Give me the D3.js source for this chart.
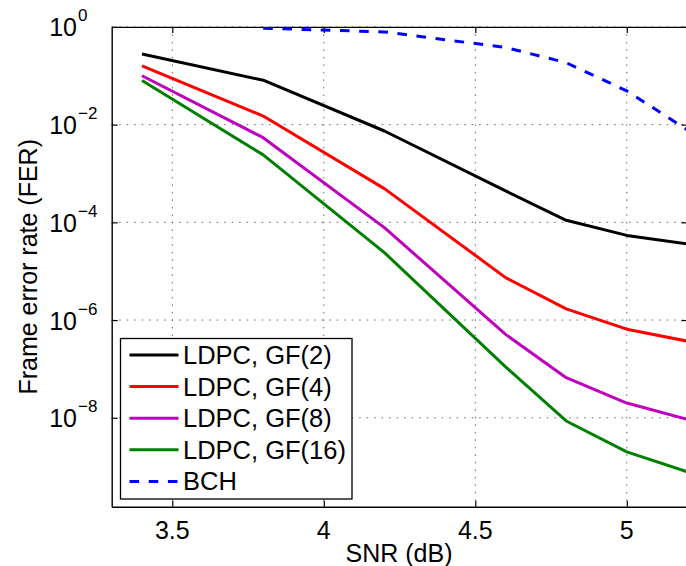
<!DOCTYPE html>
<html>
<head>
<meta charset="utf-8">
<script src="https://cdn.jsdelivr.net/npm/d3@7"></script>
<style>
  body { margin: 0; background: #fff; }
  text { font-family: "Liberation Sans", Arial, Helvetica, sans-serif; fill: #000; }
</style>
</head>
<body>
<div id="chart"></div>
<script>
// SNR points (dB) and frame error rates
var snr = [3.4, 3.8, 4.2, 4.6, 4.8, 5.0, 5.2];
var ferGF2 = [0.28, 0.081, 7.4e-3, 4.4e-4, 1.1e-4, 5.4e-5, 3.6e-5];
var ferGF4 = [0.16, 0.015, 4.9e-4, 7.4e-6, 1.7e-6, 6.5e-7, 3.7e-7];
var ferGF8 = [0.10, 5.4e-3, 7.8e-5, 5.1e-7, 6.6e-8, 2.0e-8, 9.3e-9];
var ferGF16 = [0.08, 2.4e-3, 2.4e-5, 1.1e-7, 8.6e-9, 2.0e-9, 7.8e-10];
var snrBCH = [3.8, 4.2, 4.6, 4.8, 5.0, 5.2];
var ferBCH = [0.94, 0.79, 0.38, 0.185, 0.049, 0.0078];

var seriesNames = ['LDPC, GF(2)', 'LDPC, GF(4)', 'LDPC, GF(8)', 'LDPC, GF(16)', 'BCH'];
var xTicks = [3.5, 4, 4.5, 5];
var yTickExp = [0, -2, -4, -6, -8];

var width = 686, height = 566;
var margin = { top: 26.9, left: 111.7, bottom: 506.7, right: 687.4 };

var svg = d3.select('#chart').append('svg')
  .attr('width', width)
  .attr('height', height);

var x = d3.scaleLinear().domain([3.3, 5.2]).range([margin.left, margin.right]);
var y = d3.scaleLog().domain([Math.pow(10, -9.82), 1]).range([margin.bottom, margin.top]);

var series = [
  { name: seriesNames[0], xs: snr, ys: ferGF2, color: '#000000', dash: null },
  { name: seriesNames[1], xs: snr, ys: ferGF4, color: '#ff0000', dash: null },
  { name: seriesNames[2], xs: snr, ys: ferGF8, color: '#bf00bf', dash: null },
  { name: seriesNames[3], xs: snr, ys: ferGF16, color: '#008000', dash: null },
  { name: seriesNames[4], xs: snrBCH, ys: ferBCH, color: '#0000ff', dash: '9.6,9.6' }
];

svg.append('clipPath').attr('id', 'plot-clip')
  .append('rect')
  .attr('x', margin.left).attr('y', margin.top)
  .attr('width', margin.right - margin.left)
  .attr('height', margin.bottom - margin.top);

// dotted grid
var grid = svg.append('g').attr('class', 'grid');
grid.selectAll('.vgrid')
  .data(xTicks)
  .enter().append('line')
  .attr('x1', d => x(d)).attr('x2', d => x(d))
  .attr('y1', margin.top).attr('y2', margin.bottom);
grid.selectAll('.hgrid')
  .data(yTickExp)
  .enter().append('line')
  .attr('x1', margin.left).attr('x2', margin.right)
  .attr('y1', d => y(Math.pow(10, d))).attr('y2', d => y(Math.pow(10, d)));
grid.selectAll('line')
  .attr('stroke', '#666')
  .attr('stroke-width', 1)
  .attr('stroke-dasharray', '1.5,6');

// axes with inward ticks
var yTickVals = yTickExp.map(e => Math.pow(10, e));

svg.append('g')
  .attr('transform', 'translate(0,' + margin.bottom + ')')
  .call(d3.axisBottom(x).tickValues(xTicks).tickSize(-6).tickSizeOuter(0).tickFormat(''));
svg.append('g')
  .attr('transform', 'translate(0,' + margin.top + ')')
  .call(d3.axisTop(x).tickValues(xTicks).tickSize(-6).tickSizeOuter(0).tickFormat(''));
svg.append('g')
  .attr('transform', 'translate(' + margin.left + ',0)')
  .call(d3.axisLeft(y).tickValues(yTickVals).tickSize(-6).tickSizeOuter(0).tickFormat(''));
svg.append('g')
  .attr('transform', 'translate(' + margin.right + ',0)')
  .call(d3.axisRight(y).tickValues(yTickVals).tickSize(-6).tickSizeOuter(0).tickFormat(''));

svg.selectAll('.domain').attr('stroke', '#000').attr('stroke-width', 1.4);
svg.selectAll('.tick line').attr('stroke', '#000').attr('stroke-width', 1.2);

// series lines
var line = d3.line()
  .x(d => x(d[0]))
  .y(d => y(d[1]));

svg.append('g')
  .attr('clip-path', 'url(#plot-clip)')
  .selectAll('path')
  .data(series)
  .enter().append('path')
  .attr('d', d => line(d3.zip(d.xs, d.ys)))
  .attr('fill', 'none')
  .attr('stroke', d => d.color)
  .attr('stroke-width', 3)
  .attr('stroke-linejoin', 'round')
  .attr('stroke-dasharray', d => d.dash);

// tick labels
svg.selectAll('.xlab')
  .data(xTicks)
  .enter().append('text')
  .attr('x', d => x(d))
  .attr('y', 539)
  .attr('text-anchor', 'middle')
  .style('font-size', '25px')
  .text(d => d);

var ylab = svg.selectAll('.ylab')
  .data(yTickExp)
  .enter().append('g');
ylab.append('text')
  .attr('x', 77)
  .attr('y', d => y(Math.pow(10, d)) + 9.5)
  .attr('text-anchor', 'end')
  .style('font-size', '25px')
  .text('10');
ylab.append('text')
  .attr('x', 78)
  .attr('y', d => y(Math.pow(10, d)) - 5.5)
  .style('font-size', '17px')
  .text(d => d < 0 ? '\u2212' + (-d) : d);

// axis titles
svg.append('text')
  .attr('x', 399)
  .attr('y', 562)
  .attr('text-anchor', 'middle')
  .style('font-size', '25px')
  .text('SNR (dB)');

svg.append('text')
  .attr('transform', 'translate(37,' + (margin.top + margin.bottom) / 2 + ') rotate(-90)')
  .attr('text-anchor', 'middle')
  .style('font-size', '25px')
  .text('Frame error rate (FER)');

// legend
var legend = svg.append('g').attr('transform', 'translate(120.5,338.5)');
legend.append('rect')
  .attr('width', 231.5)
  .attr('height', 160.5)
  .attr('fill', '#fff')
  .attr('stroke', '#000')
  .attr('stroke-width', 1.3);

var item = legend.selectAll('.item')
  .data(series)
  .enter().append('g')
  .attr('transform', (d, i) => 'translate(0,' + (16.5 + i * 31.6) + ')');
item.append('line')
  .attr('x1', 9).attr('x2', 58)
  .attr('stroke', d => d.color)
  .attr('stroke-width', 3)
  .attr('stroke-dasharray', d => d.dash);
item.append('text')
  .attr('x', 62.5)
  .attr('y', 9)
  .style('font-size', '25.5px')
  .text(d => d.name);
</script>
</body>
</html>
